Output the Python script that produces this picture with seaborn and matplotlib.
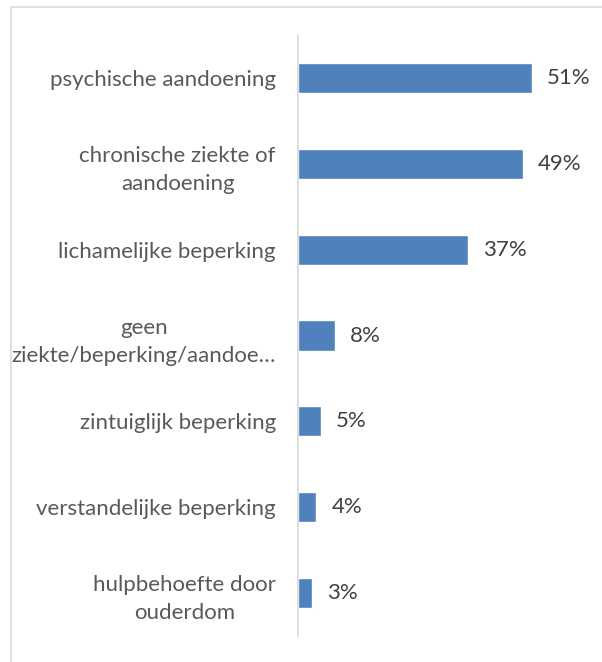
import matplotlib
matplotlib.use("Agg")
import matplotlib.pyplot as plt
import seaborn as sns
import pandas as pd
from matplotlib.patches import Rectangle

categories = [
    "psychische aandoening",
    "chronische ziekte of\naandoening",
    "lichamelijke beperking",
    "geen\nziekte/beperking/aandoe…",
    "zintuiglijk beperking",
    "verstandelijke beperking",
    "hulpbehoefte door\nouderdom",
]
values = [51, 49, 37, 8, 5, 4, 3]
value_labels = ["51%", "49%", "37%", "8%", "5%", "4%", "3%"]

sns.set_theme(style="white")
plt.rcParams["font.family"] = ["Lato", "DejaVu Sans"]

df = pd.DataFrame({"cat": categories, "val": values})

fig = plt.figure(figsize=(6.02, 6.62), dpi=100)
ax = fig.add_axes([298 / 602, 1 - 636 / 662, (573 - 298) / 602, (636 - 35) / 662])

sns.barplot(data=df, x="val", y="cat", orient="h", color="#4F81BD",
            saturation=1, width=0.35, ax=ax)

ax.set_xlim(0, 60)
ax.set_ylim(6.5, -0.5)
ax.set_xlabel("")
ax.set_ylabel("")
ax.set_xticks([])
for s in ["top", "right", "bottom"]:
    ax.spines[s].set_visible(False)
ax.spines["left"].set_color("#D9D9D9")
ax.spines["left"].set_linewidth(1.2)
ax.tick_params(axis="y", length=0, pad=16, labelsize=16, labelcolor="#595959")
for lab in ax.get_yticklabels():
    lab.set_multialignment("center")
    lab.set_linespacing(1.5)

for i, (v, t) in enumerate(zip(values, value_labels)):
    ax.annotate(t, xy=(v, i), xytext=(11, 0), textcoords="offset points",
                va="center", ha="left", fontsize=16, color="#404040")

fig.patches.append(Rectangle((11 / 602, -0.1), 1.2, 1 - 7 / 662 + 0.1,
                             transform=fig.transFigure, fill=False,
                             edgecolor="#D9D9D9", linewidth=1.2))

fig.savefig("out.png", dpi=100, facecolor="white")
